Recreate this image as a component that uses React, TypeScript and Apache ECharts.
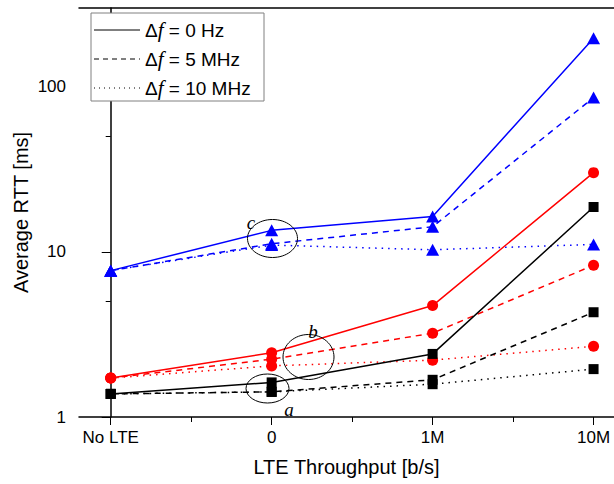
import React, { useEffect, useRef } from "react";
import * as echarts from "echarts";

// categories on the x axis
const categories = ["No LTE", "0", "1M", "10M"];
// Average RTT [ms]
const blueSolid = [7.7, 13.5, 16.4, 197];
const blueDashed = [7.7, 11.2, 14.2, 86];
const blueDotted = [7.7, 11.0, 10.3, 11.1];
const redSolid = [1.72, 2.45, 4.73, 30.2];
const redDashed = [1.72, 2.24, 3.22, 8.3];
const redDotted = [1.72, 2.04, 2.21, 2.68];
const blackSolid = [1.38, 1.62, 2.41, 18.7];
const blackDashed = [1.38, 1.42, 1.68, 4.31];
const blackDotted = [1.38, 1.42, 1.58, 1.95];
// tick labels
const yMajorTicks = [1, 10, 100];
const yMinorTicks = [5, 50];
const legendLabels = ["0 Hz", "5 MHz", "10 MHz"];
const annotations = ["a", "b", "c"];

const Y_MAX = 300;

export default function App() {
  const ref = useRef<HTMLDivElement>(null);
  useEffect(() => {
    if (!ref.current) return;
    const chart = echarts.init(ref.current, null, { renderer: "svg" });
    const dash = [6, 5];
    const dot = [1.5, 5];
    const groups = [
      { color: "#000000", symbol: "rect", size: 10, data: [blackSolid, blackDashed, blackDotted] },
      { color: "#ff0000", symbol: "circle", size: 11, data: [redSolid, redDashed, redDotted] },
      { color: "#0000ff", symbol: "triangle", size: [13, 12], data: [blueSolid, blueDashed, blueDotted] },
    ];
    const types: any[] = ["solid", dash, dot];
    const series: any[] = [];
    groups.forEach((g) => {
      g.data.forEach((arr, k) => {
        series.push({
          type: "line",
          xAxisIndex: 0,
          yAxisIndex: 0,
          data: arr.map((v, i) => [i, v]),
          symbol: g.symbol,
          symbolSize: g.size,
          showAllSymbol: true,
          z: 3 - k,
          itemStyle: { color: g.color },
          lineStyle: { color: g.color, width: 1.5, type: types[k] },
        });
      });
    });

    const font = "Liberation Sans, Arial, sans-serif";
    const serif = "Liberation Serif, Times New Roman, serif";
    const xMin = -0.197;
    const xMax = 3.127;
    const logMax = Math.log10(Y_MAX);

    const legendRows = [30, 59, 88];
    const legendItems: any[] = [
      {
        type: "rect",
        shape: { x: 91, y: 13, width: 173, height: 88 },
        style: { fill: "#ffffff", stroke: "#808080", lineWidth: 1 },
        z: 10,
      },
    ];
    legendLabels.forEach((lab, k) => {
      legendItems.push({
        type: "line",
        shape: { x1: 94, y1: legendRows[k], x2: 140, y2: legendRows[k] },
        style: { stroke: "#000", lineWidth: 1, lineDash: k === 0 ? null : k === 1 ? [5, 4] : [1, 4] },
        z: 11,
      });
      legendItems.push({
        type: "text",
        x: 145,
        y: legendRows[k],
        style: {
          text: "{d|Δ}{f|f}{d| = " + lab + "}",
          verticalAlign: "middle",
          rich: {
            d: { fontFamily: font, fontSize: 19, fill: "#000" },
            f: { fontFamily: serif, fontStyle: "italic", fontSize: 21, fill: "#000" },
          },
        },
        z: 11,
      });
    });

    const ellipses = [
      { cx: 267.5, cy: 388.5, rx: 21.5, ry: 14.5, lx: 289, ly: 409 },
      { cx: 308.5, cy: 357, rx: 25.5, ry: 22.5, lx: 313, ly: 331 },
      { cx: 272.5, cy: 238.5, rx: 25, ry: 19, lx: 251, ly: 222 },
    ];
    const annot: any[] = [];
    ellipses.forEach((e, i) => {
      annot.push({
        type: "ellipse",
        shape: { cx: e.cx, cy: e.cy, rx: e.rx, ry: e.ry },
        style: { fill: "none", stroke: "#000", lineWidth: 1 },
        z: 5,
      });
      annot.push({
        type: "text",
        x: e.lx,
        y: e.ly,
        style: {
          text: annotations[i],
          fontFamily: serif,
          fontStyle: "italic",
          fontSize: 19,
          fill: "#000",
          align: "center",
          verticalAlign: "middle",
        },
        z: 5,
      });
    });

    chart.setOption({
      animation: false,
      backgroundColor: "#ffffff",
      grid: { left: 79, right: 0, top: 8, bottom: 67, containLabel: false },
      xAxis: [
        {
          type: "value",
          min: xMin,
          max: xMax,
          position: "bottom",
          axisLine: { show: true, lineStyle: { color: "#000", width: 1.5 } },
          axisTick: { show: true, customValues: [0, 1, 2, 3], length: 8, lineStyle: { color: "#000", width: 1 } },
          axisLabel: {
            show: true,
            customValues: [0, 1, 2, 3],
            formatter: (v: number) => categories[Math.round(v)] ?? "",
            fontFamily: font,
            fontSize: 17,
            color: "#000",
            margin: 12,
          },
          splitLine: { show: false },
          name: "LTE Throughput [b/s]",
          nameLocation: "middle",
          nameGap: 40,
          nameTextStyle: { fontFamily: font, fontSize: 20, color: "#000" },
        },
        {
          type: "value",
          min: xMin,
          max: xMax,
          position: "bottom",
          axisLine: { show: false },
          axisTick: { show: true, customValues: [0.5, 1.5, 2.5], length: 5, lineStyle: { color: "#000", width: 1 } },
          axisLabel: { show: false },
          splitLine: { show: false },
        },
        {
          type: "value",
          min: xMin,
          max: xMax,
          position: "top",
          axisLine: { show: true, lineStyle: { color: "#000", width: 1.5 } },
          axisTick: { show: false },
          axisLabel: { show: false },
          splitLine: { show: false },
        },
      ],
      yAxis: [
        {
          type: "log",
          logBase: 10,
          min: 1,
          max: Y_MAX,
          position: "left",
          axisLine: { show: true, lineStyle: { color: "#000", width: 1.5 } },
          axisTick: { show: false },
          axisLabel: { show: false },
          splitLine: { show: false },
          minorTick: { show: false },
          name: "Average RTT [ms]",
          nameLocation: "middle",
          nameGap: 48,
          nameTextStyle: { fontFamily: font, fontSize: 20, color: "#000" },
        },
        {
          type: "value",
          min: 0,
          max: logMax,
          position: "left",
          axisLine: { show: false },
          axisTick: {
            show: true,
            customValues: yMajorTicks.map((v) => Math.log10(v)),
            length: 9,
            lineStyle: { color: "#000", width: 1 },
          },
          axisLabel: {
            show: true,
            customValues: yMajorTicks.map((v) => Math.log10(v)),
            formatter: (v: number) => String(Math.round(Math.pow(10, v))),
            fontFamily: font,
            fontSize: 17,
            color: "#000",
            margin: 13,
          },
          splitLine: { show: false },
        },
        {
          type: "value",
          min: 0,
          max: logMax,
          position: "left",
          axisLine: { show: false },
          axisTick: {
            show: true,
            customValues: yMinorTicks.map((v) => Math.log10(v)),
            length: 5,
            lineStyle: { color: "#000", width: 1 },
          },
          axisLabel: { show: false },
          splitLine: { show: false },
        },
      ],
      graphic: [...annot, ...legendItems],
      series,
    });
    return () => chart.dispose();
  }, []);
  return (
    <div
      ref={ref}
      style={{ position: "absolute", left: 0, top: 0, width: 614, height: 484 }}
    />
  );
}
